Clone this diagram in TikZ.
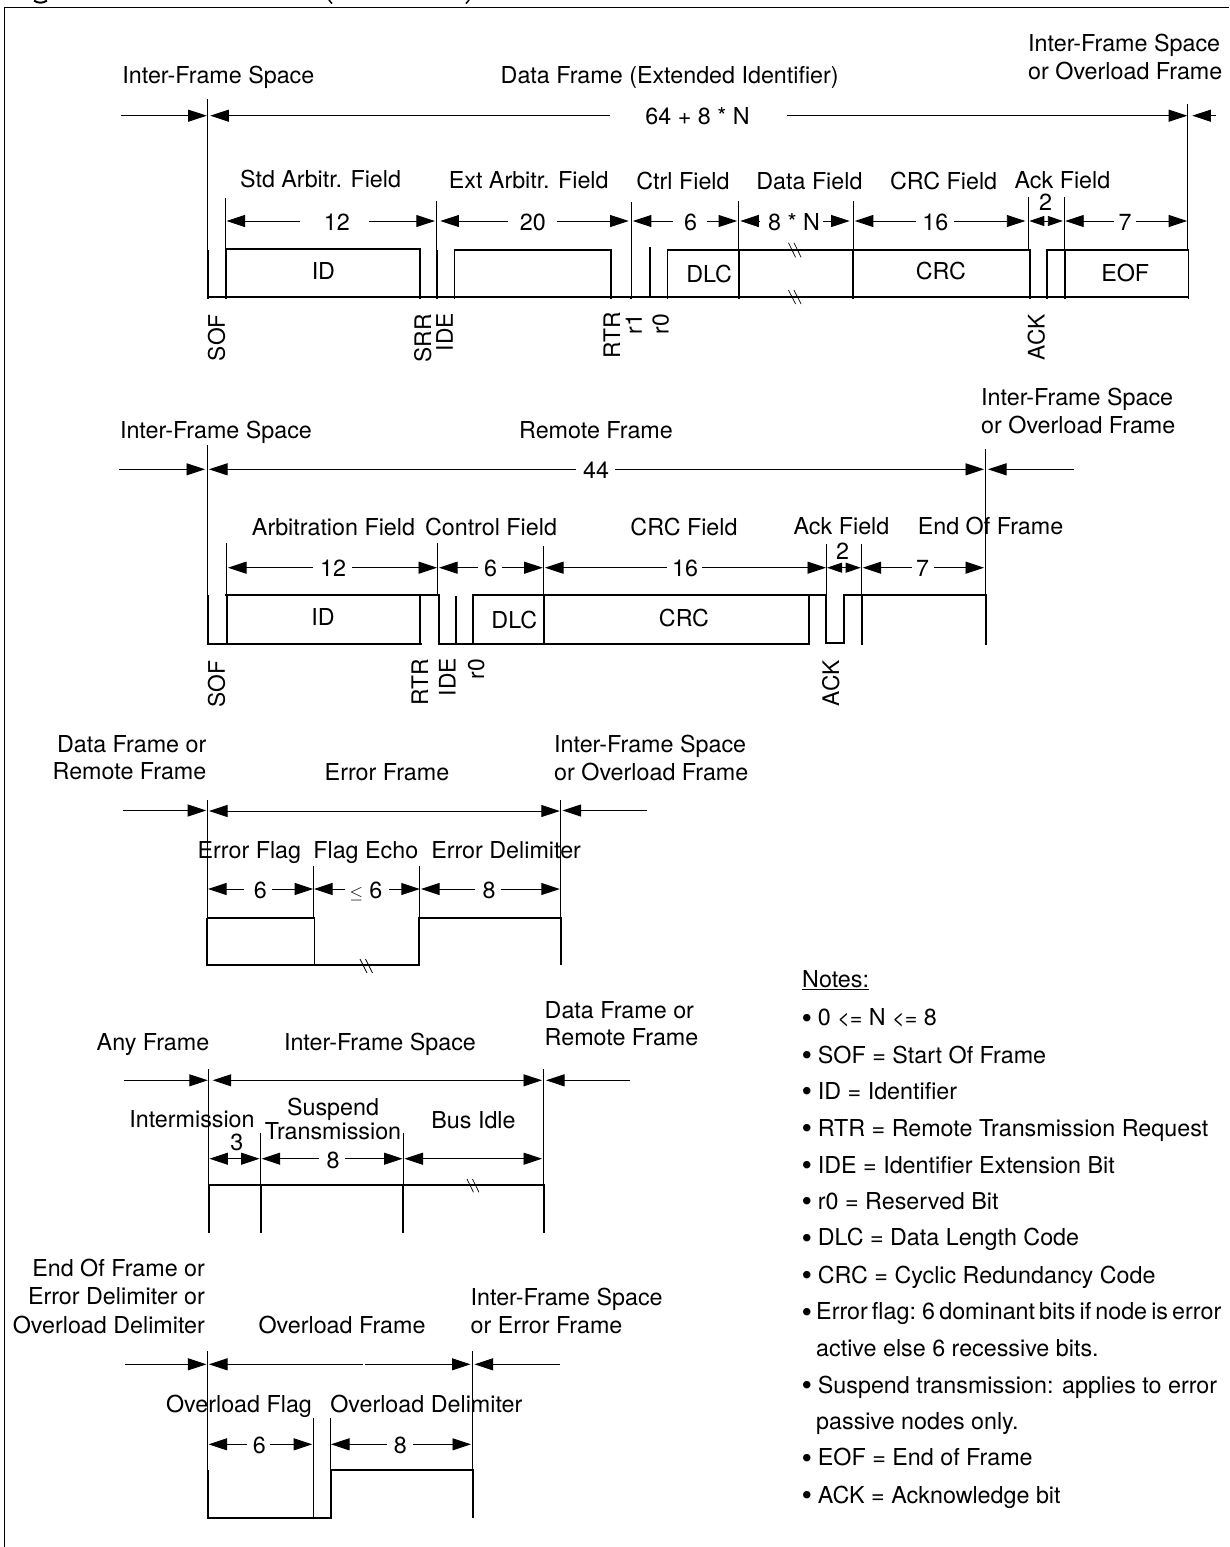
\documentclass[tikz,border=0pt]{standalone}
\usepackage{fontspec}
\setmainfont{TeX Gyre Heros}
\usetikzlibrary{arrows.meta}
\tikzset{
  thinln/.style={line width=0.9pt,black},
  sig/.style={line width=1.7pt,black,line join=miter,line cap=butt},
  arr/.style={line width=0.9pt,-{Triangle[length=18.5pt,width=12pt]}},
  arrb/.style={line width=0.9pt,{Triangle[length=18.5pt,width=12pt]}-{Triangle[length=18.5pt,width=12pt]}},
  arrs/.style={line width=0.9pt,{Triangle[length=15pt,width=10pt]}-{Triangle[length=15pt,width=10pt]}},
  lab/.style={inner sep=0pt,anchor=base,font=\fontsize{23.3}{27}\selectfont},
  labl/.style={inner sep=0pt,anchor=base west,font=\fontsize{23.3}{27}\selectfont},
  labr/.style={inner sep=0pt,anchor=base east,font=\fontsize{23.3}{27}\selectfont},
  bul/.style={inner sep=0pt,anchor=base west,font=\fontsize{30}{30}\selectfont},
  rot/.style={inner sep=0pt,rotate=90,anchor=base east,font=\fontsize{22.8}{27}\selectfont},
}
% centre label: name, x, y of cap-centre, text
\newcommand{\lbc}[4]{\node[lab] (#1) at ({#2},{#3+8.2}) {#4};}
\newcommand{\lbl}[4]{\node[labl] (#1) at ({#2},{#3+8.2}) {#4};}
\newcommand{\lbr}[4]{\node[labr] (#1) at ({#2},{#3+8.2}) {#4};}
% rotated label: name, x of centre, y of the top end, text
\newcommand{\lbv}[4]{\node[rot] (#1) at ({#2+8.2},{#3}) {#4};}
% dimension line piece: tail x, tip x, y
\newcommand{\dm}[3]{\draw[arr] (#1,#3) -- (#2,#3);}
% extension line: x, y top, y bottom
\newcommand{\ex}[3]{\draw[thinln] (#1,#2) -- (#1,#3);}
% break mark: x, y top, y bottom, slant
\newcommand{\brk}[4]{\draw[thinln,line width=.7pt] (#1,#2) -- ({#1+#4},#3) ({#1+5.5},#2) -- ({#1+5.5+#4},#3);}
\newcommand{\itm}[2]{\node[bul] at (801.5,{#1+10.5}) {•};\node[labl] at (817.7,{#1+8.2}) {#2};}
\newcommand{\lessEq}{{\fontsize{21.5}{21.5}\selectfont <=}}
\begin{document}
\begin{tikzpicture}[x=1pt,y=-1pt]
\useasboundingbox (0,0) rectangle (1229,1547);
% frame
\draw[line width=1pt] (4.6,1547) -- (4.6,7.5) -- (1229,7.5);
% remains of the clipped heading
\draw[line width=2pt] (34,0.6) .. controls (38,3.4) and (43,3.4) .. (47,0.6);
\draw[line width=1.5pt] (329,0) -- (332,3.6);
\draw[line width=1.5pt] (469,0) -- (466,3.6);

%%% ------- Data frame
\lbc{d1a}{218.4}{75}{Inter-Frame Space}
\lbc{d1b}{669.7}{75}{Data Frame (Extended Identifier)}
\lbl{d1c}{1028}{43}{Inter-Frame Space}
\lbl{d1d}{1028}{71}{or Overload Frame}
\lbc{d1e}{697.6}{116}{64 + 8 * N}
\dm{121}{206.7}{115.7}
\dm{610}{210.3}{115.7}
\dm{786.9}{1187.2}{115.7}
\dm{1216}{1192.3}{115.7}
\ex{207.5}{99}{250}
\ex{1187.6}{104}{250}
\lbc{d1f}{320.6}{179}{Std Arbitr. Field}
\lbc{d1g}{528.7}{180}{Ext Arbitr. Field}
\lbc{d1h}{683}{181}{Ctrl Field}
\lbc{d1i}{809.4}{181}{Data Field}
\lbc{d1j}{943.6}{181}{CRC Field}
\lbc{d1k}{1062.4}{180}{Ack Field}
\ex{225.3}{198}{250}
\ex{436.4}{201}{250}
\ex{631.2}{202}{297}
\ex{738.3}{201}{250}
\ex{853.6}{201}{250}
\ex{1028.5}{197}{250}
\ex{1064.5}{197}{250}
\lbc{d1n1}{336.8}{222}{12}
\dm{300.4}{226.5}{221}\dm{368.8}{434.8}{221}
\lbc{d1n2}{532.9}{222}{20}
\dm{508}{440.4}{221}\dm{556.6}{628.6}{221}
\lbc{d1n3}{690.5}{222}{6}
\dm{673.2}{632.9}{221}\dm{706.7}{737.1}{221}
\lbc{d1n4}{794}{222}{8 * N}
\dm{759.2}{740.3}{221}\dm{823.2}{849.6}{221}
\lbc{d1n5}{935.3}{222}{16}
\dm{916}{854.8}{221}\dm{953.5}{1025.3}{221}
\lbc{d1n6}{1045.5}{202}{2}
\draw[arrs] (1029.3,221) -- (1062.8,221);
\lbc{d1n7}{1125.2}{222}{7}
\dm{1114.2}{1065.2}{221}\dm{1135.9}{1187.2}{221}
% signal
\draw[sig] (207,296.7) -- (1188.4,296.7);
\draw[sig] (208.3,250) -- (208.3,299);
\draw[sig] (225.7,299) -- (225.7,249) -- (421,249);
\draw[sig] (419.8,249) -- (419.8,299);
\draw[sig] (437.2,250) -- (437.2,299);
\draw[sig] (454.6,299) -- (454.6,249.7) -- (611,249.7) -- (611,299);
\draw[sig] (630.9,297) -- (630.9,299);
\draw[sig] (649.9,247) -- (649.9,297);
\draw[sig] (667.6,299) -- (667.6,249.7) -- (1030.5,249.7);
\draw[sig] (738.7,249.7) -- (738.7,299);
\draw[sig] (853.2,249.7) -- (853.2,299);
\draw[sig,line width=2.6pt] (1030,249) -- (1030,297);
\draw[sig] (1030,297) -- (1030,299);
\draw[sig] (1047,299) -- (1047,249.7) -- (1188.4,249.7) -- (1188.4,299);
\draw[sig] (1065.2,249.7) -- (1065.2,299);
\brk{788.4}{242.7}{257.3}{7.2}
\brk{788.4}{290}{304}{7.2}
\lbc{d1id}{323.4}{271}{ID}
\lbc{d1dlc}{709.1}{274}{DLC}
\lbc{d1crc}{940.8}{271.7}{CRC}
\lbc{d1eof}{1125.2}{273}{EOF}
\lbv{d1v1}{216.6}{314}{SOF}
\lbv{d1v2}{423}{314}{SRR}
\lbv{d1v3}{444.7}{313}{IDE}
\lbv{d1v4}{612}{312}{RTR}
\lbv{d1v5}{633.7}{314}{r1}
\lbv{d1v6}{660.5}{314}{r0}
\lbv{d1v7}{1036.4}{314}{ACK}

%%% ------- Remote frame
\lbc{d2a}{216}{430}{Inter-Frame Space}
\lbc{d2b}{596}{430}{Remote Frame}
\lbl{d2c}{981}{397}{Inter-Frame Space}
\lbl{d2d}{981}{425}{or Overload Frame}
\lbc{d2e}{596}{470}{44}
\dm{119}{205}{469.3}
\dm{576}{209}{469.3}
\dm{615}{984}{469.3}
\dm{1074}{988}{469.3}
\ex{207.3}{445}{595}
\ex{985.3}{449}{595}
\lbc{d2f}{333.5}{527.5}{Arbitration Field}
\lbc{d2g}{491}{527}{Control Field}
\lbc{d2h}{684}{527}{CRC Field}
\lbc{d2i}{841.5}{526}{Ack Field}
\lbc{d2j}{990.5}{526}{End Of Frame}
\ex{226.3}{543}{595}
\ex{437.3}{543}{595}
\ex{543.3}{546}{595}
\ex{826.3}{544}{595}
\ex{861.3}{544}{595}
\lbc{d2n1}{333}{568}{12}
\dm{312.7}{228}{567.7}\dm{352}{437}{567.7}
\lbc{d2n2}{490.7}{568}{6}
\dm{478}{439}{567.7}\dm{501.7}{542.7}{567.7}
\lbc{d2n3}{685}{568}{16}
\dm{666.7}{545}{567.7}\dm{702}{826}{567.7}
\lbc{d2n4}{842.7}{551}{2}
\draw[arrs] (827,567.7) -- (860.7,567.7);
\lbc{d2n5}{922.7}{568}{7}
\dm{912}{862.7}{567.7}\dm{934}{984}{567.7}
% signal
\draw[sig] (208,595) -- (208,643.7) -- (421.5,643.7);
\draw[sig] (227,643.7) -- (227,595);
\draw[sig] (225,595) -- (439,595) -- (439,643.7) -- (809.3,643.7) -- (809.3,595);
\draw[sig] (420,595) -- (420,643.7);
\draw[sig] (456,596) -- (456,643.7);
\draw[sig] (472.7,643.7) -- (472.7,595) -- (827,595);
\draw[sig] (544,595) -- (544,643.7);
\draw[sig] (826.3,595) -- (826.3,643) -- (844,643) -- (844,595) -- (986,595) -- (986,645);
\draw[sig] (862,595) -- (862,645);
\lbc{d2id}{323}{617}{ID}
\lbc{d2dlc}{514.3}{620}{DLC}
\lbc{d2crc}{684}{618.7}{CRC}
\lbv{d2v1}{216.7}{660.5}{SOF}
\lbv{d2v2}{420}{659}{RTR}
\lbv{d2v3}{447.3}{658}{IDE}
\lbv{d2v4}{476}{659}{r0}
\lbv{d2v5}{831}{660}{ACK}

%%% ------- Error frame
\lbr{d3a}{206.5}{744}{Data Frame or}
\lbr{d3b}{206.5}{771.7}{Remote Frame}
\lbc{d3c}{387}{772}{Error Frame}
\lbl{d3d}{554}{744}{Inter-Frame Space}
\lbl{d3e}{554}{772}{or Overload Frame}
\dm{122.7}{206.2}{810.5}
\draw[arrb] (209,811) -- (559.8,811);
\dm{647}{562.6}{810.5}
\ex{207.6}{800}{917.7}
\ex{560.7}{800}{917.7}
\lbc{d3f}{249.4}{850}{Error Flag}
\lbc{d3g}{365.8}{850}{Flag Echo}
\lbc{d3h}{506.1}{850}{Error Delimiter}
\ex{313.7}{866}{917.7}
\ex{419.8}{866}{917.7}
\lbc{d3n1}{260.4}{890}{6}
\dm{244.3}{208}{889}\dm{271.9}{313.2}{889}
\lbc{d3n2}{366}{890}{{\fontsize{17}{17}\selectfont$\le$} 6}
\dm{345.4}{314}{889}\dm{389}{419.8}{889}
\lbc{d3n3}{489}{890}{8}
\dm{475.3}{421}{889}\dm{500.6}{559.8}{889}
\draw[sig] (207.2,917.7) -- (207.2,965.3) -- (419.3,965.3) -- (419.3,917.7) -- (560.7,917.7) -- (560.7,965.3);
\draw[sig] (207.2,917.7) -- (314.6,917.7) -- (314.6,965.3);
\brk{360}{959}{973}{7}

%%% ------- Inter-frame space
\lbc{d4a}{153}{1042.3}{Any Frame}
\lbc{d4b}{380}{1042}{Inter-Frame Space}
\lbl{d4c}{544.5}{1010.7}{Data Frame or}
\lbl{d4d}{544.5}{1037.7}{Remote Frame}
\dm{124}{207.8}{1080.3}
\draw[arrb] (212.7,1080.3) -- (542,1080.3);
\dm{630}{546}{1080.3}
\ex{208.6}{1069.3}{1185}
\ex{543.7}{1069.3}{1185}
\lbc{d4e}{192}{1119.3}{Intermission}
\lbc{d4f}{333}{1107.7}{Suspend}
\lbc{d4g}{333}{1131.7}{Transmission}
\lbc{d4h}{473.5}{1120}{Bus Idle}
\ex{260.8}{1132.7}{1185}
\ex{403.3}{1132.7}{1185}
\lbc{d4n1}{236.8}{1142.7}{3}
\draw[arrb] (209.4,1158.7) -- (259.6,1158.7);
\lbc{d4n2}{333}{1160}{8}
\dm{318.8}{261.7}{1158.7}\dm{345.3}{402.5}{1158.7}
\draw[arrb] (404.5,1158.7) -- (542,1158.7);
\draw[sig] (207.8,1185) -- (544.5,1185);
\draw[sig] (209,1185) -- (209,1233.3);
\draw[sig] (261.2,1185) -- (261.2,1233.3);
\draw[sig] (403.3,1185) -- (403.3,1233.3);
\draw[sig] (543.7,1185) -- (543.7,1233.3);
\brk{467}{1179}{1192.3}{6.5}

%%% ------- Overload frame
\lbr{d5a}{205.1}{1268.3}{End Of Frame or}
\lbr{d5b}{205.1}{1296.7}{Error Delimiter or}
\lbr{d5c}{205.1}{1325}{Overload Delimiter}
\lbc{d5d}{342}{1325}{Overload Frame}
\lbl{d5e}{470.5}{1297.3}{Inter-Frame Space}
\lbl{d5f}{470.5}{1325}{or Error Frame}
\dm{124.9}{206.4}{1364.3}
\dm{362.6}{209}{1364.3}
\dm{365}{470.5}{1364.3}
\dm{559.5}{474.5}{1364.3}
\ex{207.3}{1351}{1470}
\ex{472.3}{1351}{1470}
\lbc{d5g}{239}{1404}{Overload Flag}
\lbc{d5h}{426.3}{1404}{Overload Delimiter}
\ex{313.6}{1417.7}{1470}
\ex{330.5}{1417.7}{1470}
\lbc{d5n1}{259.4}{1445}{6}
\dm{247}{208.6}{1444.3}\dm{269.8}{312.2}{1444.3}
\lbc{d5n2}{400.3}{1445}{8}
\dm{386.9}{331}{1444.3}\dm{412.9}{471}{1444.3}
\draw[sig] (208.2,1470) -- (208.2,1517.7) -- (331,1517.7) -- (331,1470) -- (472.7,1470) -- (472.7,1518);
\draw[sig] (313.6,1470) -- (313.6,1517.7);

%%% ------- Notes
\node[labl] (notes) at (802,{979+8.2}) {\underline{Notes:}};
\itm{1017.7}{0 \lessEq{} N \lessEq{} 8}
\itm{1055}{SOF = Start Of Frame}
\itm{1091}{ID = Identifier}
\itm{1128.3}{RTR = Remote Transmission Request}
\itm{1165}{IDE = Identifier Extension Bit}
\itm{1201}{r0 = Reserved Bit}
\itm{1237.7}{DLC = Data Length Code}
\itm{1275}{CRC = Cyclic Redundancy Code}
\node[bul] at (801.5,{1311.7+10.5}) {•};
\node[labl] at (816,{1311.7+8.2}) {\spaceskip=4.1pt Error flag: 6 dominant bits if node is error};
\lbl{n9}{816}{1348.3}{active else 6 recessive bits.}
\itm{1385}{Suspend transmission: applies to error}
\lbl{n10}{816}{1421.7}{passive nodes only.}
\itm{1457.7}{EOF = End of Frame}
\itm{1495}{ACK = Acknowledge bit}
\end{tikzpicture}
\end{document}
